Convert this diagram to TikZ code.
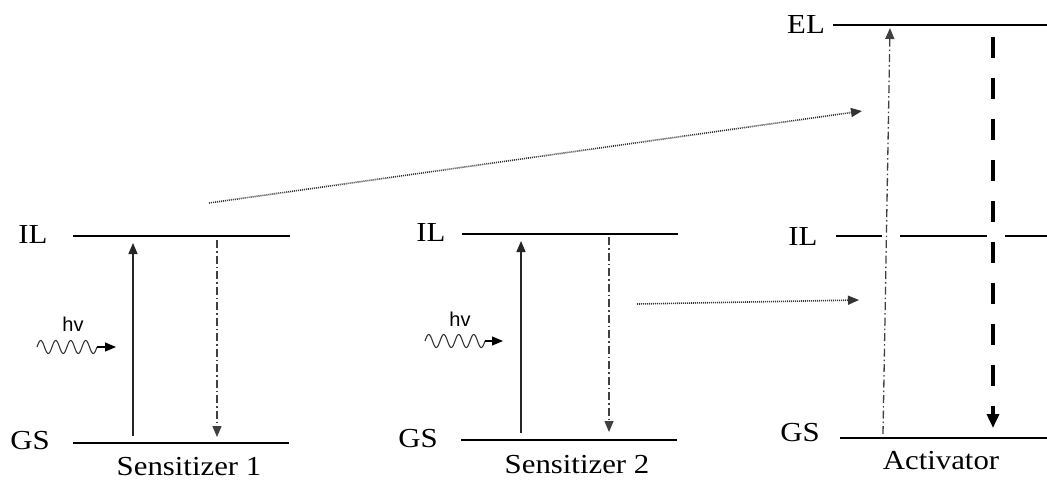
\documentclass[tikz,border=0pt]{standalone}
\usepackage{fontspec}
\setmainfont[FakeStretch=1.12]{Liberation Serif}
\newfontfamily\hvfont{Liberation Sans}
\usetikzlibrary{arrows.meta}
\begin{document}
\begin{tikzpicture}[x=1pt,y=-1pt,
  level/.style={line width=1.7pt},
  lbl/.style={font=\fontsize{27.5}{29}\selectfont, inner sep=0pt},
  hvlbl/.style={font=\hvfont\fontsize{20}{22}\selectfont, inner sep=0pt},
  tip/.style={-{Triangle[length=11pt,width=9pt]}},
  absorb/.style={tip, line width=1.4pt, black!85},
  dashdot/.style={tip, line width=1.3pt, black!75, dash pattern=on 8pt off 3pt on 1.5pt off 3pt},
  transfer/.style={tip, line width=1.6pt, dash pattern=on 1pt off 1pt, black!80},
  emit/.style={-{Triangle[length=14pt,width=12pt]}, line width=4.5pt, dash pattern=on 21pt off 20pt}]
\useasboundingbox (0,0) rectangle (1047,484);

% ---------- Sensitizer 1 ----------
\coordinate (s1ILa) at (73,236); \coordinate (s1ILb) at (290,236);
\coordinate (s1GSa) at (73,443); \coordinate (s1GSb) at (289,443);
\draw[level] (s1ILa) -- (s1ILb);
\draw[level] (s1GSa) -- (s1GSb);
\node[lbl] (s1IL) at (33,234) {IL};
\node[lbl] (s1GS) at (30,441) {GS};
\node[lbl] (s1name) at (189,467) {Sensitizer 1};
\coordinate (s1upA) at (133,436); \coordinate (s1upB) at (133,243);
\draw[absorb] (s1upA) -- (s1upB);
\coordinate (s1dnA) at (217,240); \coordinate (s1dnB) at (217,437);
\draw[dashdot] (s1dnA) -- (s1dnB);
\node[hvlbl] (s1hv) at (73,324) {hv};
\draw[line width=1.1pt, black!80] plot[domain=0:60,samples=120] ({37+\x},{347-6.5*sin(\x*24)});
\coordinate (s1wA) at (97,347); \coordinate (s1wB) at (116,347);
\draw[tip, line width=1.2pt] (s1wA) -- (s1wB);

% ---------- Sensitizer 2 ----------
\coordinate (s2ILa) at (462,234); \coordinate (s2ILb) at (678,234);
\coordinate (s2GSa) at (461,440); \coordinate (s2GSb) at (677,440);
\draw[level] (s2ILa) -- (s2ILb);
\draw[level] (s2GSa) -- (s2GSb);
\node[lbl] (s2IL) at (431,232) {IL};
\node[lbl] (s2GS) at (418,439) {GS};
\node[lbl] (s2name) at (577,465) {Sensitizer 2};
\coordinate (s2upA) at (521,433); \coordinate (s2upB) at (521,241);
\draw[absorb] (s2upA) -- (s2upB);
\coordinate (s2dnA) at (609,237); \coordinate (s2dnB) at (609,432);
\draw[dashdot] (s2dnA) -- (s2dnB);
\node[hvlbl] (s2hv) at (460,319) {hv};
\draw[line width=1.1pt, black!80] plot[domain=0:60,samples=120] ({425+\x},{341-6.5*sin(\x*24)});
\coordinate (s2wA) at (485,341); \coordinate (s2wB) at (503,341);
\draw[tip, line width=1.2pt] (s2wA) -- (s2wB);

% ---------- Activator ----------
\coordinate (aELa) at (833,25); \coordinate (aELb) at (1047,25);
\coordinate (aGSa) at (840,438); \coordinate (aGSb) at (1047,438);
\draw[level] (aELa) -- (aELb);
\draw[level] (aGSa) -- (aGSb);
\coordinate (aIL1a) at (836,236); \coordinate (aIL1b) at (882,236);
\coordinate (aIL2a) at (900,236); \coordinate (aIL2b) at (987,236);
\coordinate (aIL3a) at (1005,236); \coordinate (aIL3b) at (1047,236);
\draw[level] (aIL1a) -- (aIL1b);
\draw[level] (aIL2a) -- (aIL2b);
\draw[level] (aIL3a) -- (aIL3b);
\node[lbl] (aEL) at (806,24) {EL};
\node[lbl] (aIL) at (803,236) {IL};
\node[lbl] (aGS) at (800,433) {GS};
\node[lbl] (aname) at (941,461) {Activator};
\coordinate (aupA) at (883,434); \coordinate (aupB) at (890,28);
\draw[dashdot] (aupA) -- (aupB);
\coordinate (adnA) at (993,37); \coordinate (adnB) at (993,428);
\draw[emit] (adnA) -- (adnB);

% ---------- energy transfer ----------
\coordinate (t1A) at (209,203); \coordinate (t1B) at (862,111);
\draw[transfer] (t1A) -- (t1B);
\coordinate (t2A) at (637,304); \coordinate (t2B) at (859,300);
\draw[transfer] (t2A) -- (t2B);
\end{tikzpicture}
\end{document}
